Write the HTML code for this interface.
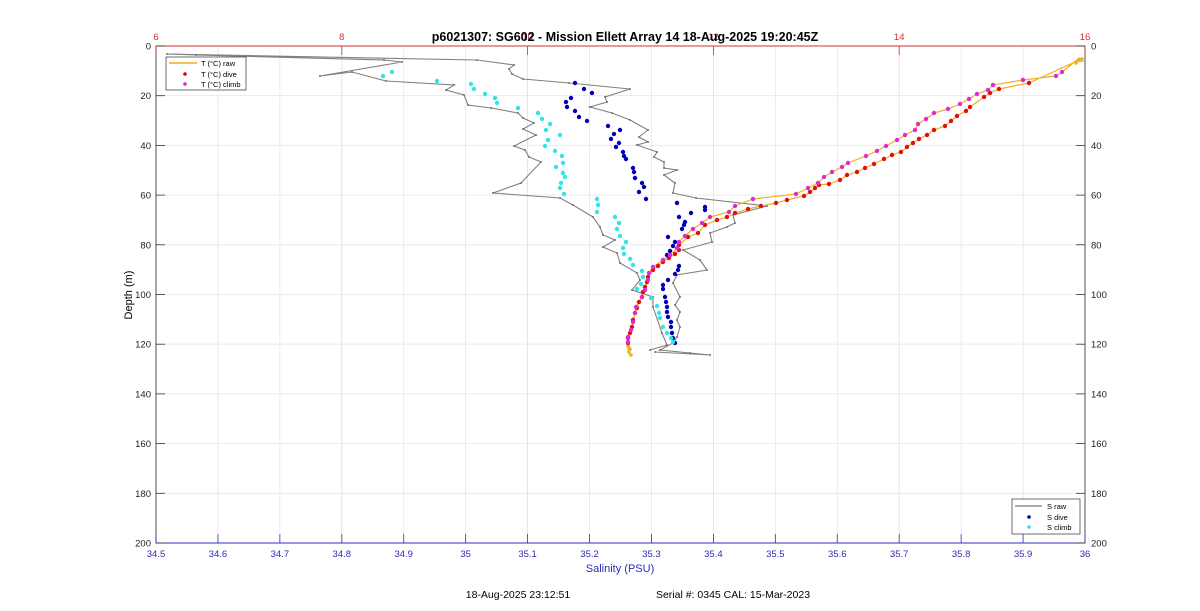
<!DOCTYPE html>
<html><head><meta charset="utf-8"><style>
html,body{margin:0;padding:0;background:#fff;}
svg{display:block;font-family:"Liberation Sans",Arial,sans-serif;}
</style></head><body>
<svg id="s" width="1200" height="611" viewBox="0 0 1200 611" xmlns="http://www.w3.org/2000/svg">
<rect width="1200" height="611" fill="#fff"/>
<g id="grid"></g>
<rect x="156" y="46" width="929" height="497" fill="none" stroke="#262626" stroke-width="0.8"/>
<line x1="156" y1="46" x2="1085" y2="46" stroke="#d03030" stroke-width="1"/>
<line x1="156" y1="543" x2="1085" y2="543" stroke="#3030c0" stroke-width="1"/>
<g id="ticks" font-size="9.5"></g>
<g id="data"></g>
<text x="625" y="41" font-size="12.5" font-weight="bold" text-anchor="middle" fill="#000">p6021307: SG602 - Mission Ellett Array 14 18-Aug-2025 19:20:45Z</text>
<text x="620" y="572" font-size="11" text-anchor="middle" fill="#2b2bb5">Salinity (PSU)</text>
<text transform="translate(132,295) rotate(-90)" font-size="11" text-anchor="middle" fill="#000">Depth (m)</text>
<text x="518" y="598" font-size="10.5" text-anchor="middle" fill="#000">18-Aug-2025 23:12:51</text>
<text x="733" y="598" font-size="10.5" text-anchor="middle" fill="#000">Serial #: 0345  CAL: 15-Mar-2023</text>
<g font-size="7.5" fill="#000">
<rect x="166" y="57" width="80" height="33" fill="#fff" stroke="#333" stroke-width="0.7"/>
<line x1="169" y1="63" x2="197" y2="63" stroke="#edb120" stroke-width="1.5"/>
<text x="201" y="66">T (°C) raw</text>
<circle cx="185" cy="74" r="1.8" fill="#e00000"/><text x="201" y="77">T (°C) dive</text>
<circle cx="185" cy="84" r="1.8" fill="#e020e0"/><text x="201" y="87">T (°C) climb</text>
<rect x="1012" y="499" width="68" height="35" fill="#fff" stroke="#333" stroke-width="0.7"/>
<line x1="1015" y1="506" x2="1042" y2="506" stroke="#777" stroke-width="1.2"/>
<text x="1047" y="509">S raw</text>
<circle cx="1029" cy="517" r="1.8" fill="#0000b0"/><text x="1047" y="520">S dive</text>
<circle cx="1029" cy="527" r="1.8" fill="#22e8e8"/><text x="1047" y="530">S climb</text>
</g>
</svg>
<script>
var NS="http://www.w3.org/2000/svg";
function el(p,t,a,txt){var e=document.createElementNS(NS,t);for(var k in a)e.setAttribute(k,a[k]);if(txt!==undefined)e.textContent=txt;document.getElementById(p).appendChild(e);return e;}
var X0=156,X1=1085,Y0=46,Y1=543;
// salinity grid & ticks
for(var i=0;i<=15;i++){var x=X0+(X1-X0)*i/15;
 if(i>0&&i<15)el("grid","line",{x1:x,y1:Y0,x2:x,y2:Y1,stroke:"#e6e6e6","stroke-width":0.8});
 el("ticks","line",{x1:x,y1:Y1,x2:x,y2:Y1-9,stroke:"#3030c0","stroke-width":0.8});
 var v=(34.5+i*0.1).toFixed(1);if(v=="35.0")v="35";if(v=="36.0")v="36";
 el("ticks","text",{x:x,y:557,"text-anchor":"middle",fill:"#2b2bb5"},v);}
// temp ticks
for(var i=0;i<=5;i++){var x=X0+(X1-X0)*i/5;
 if(i>0&&i<5)el("grid","line",{x1:x,y1:Y0,x2:x,y2:Y1,stroke:"#f0dede","stroke-width":0.8});
 el("ticks","line",{x1:x,y1:Y0,x2:x,y2:Y0+9,stroke:"#d03030","stroke-width":0.8});
 el("ticks","text",{x:x,y:40,"text-anchor":"middle",fill:"#d03030"},String(6+2*i));}
// depth
for(var i=0;i<=10;i++){var y=Y0+(Y1-Y0)*i/10;
 if(i>0&&i<10)el("grid","line",{x1:X0,y1:y,x2:X1,y2:y,stroke:"#e6e6e6","stroke-width":0.8});
 el("ticks","line",{x1:X0,y1:y,x2:X0+9,y2:y,stroke:"#333","stroke-width":0.8});
 el("ticks","line",{x1:X1,y1:y,x2:X1-9,y2:y,stroke:"#333","stroke-width":0.8});
 el("ticks","text",{x:151,y:y+3.5,"text-anchor":"end",fill:"#222"},String(i*20));
 el("ticks","text",{x:1091,y:y+3.5,fill:"#222"},String(i*20));}
function P(a){return a.map(function(p){return p[0]+","+p[1]}).join(" ");}
var gray=[[650,350],[667,345],[662,333],[653,307],[653,297],[632,290],[640,280],[637,273],[620,263],[617,253],[603,247],[615,240],[603,235],[600,227],[593,217],[573,205],[560,198],[493,193],[521,183],[541,162],[529,157],[525,150],[514,146],[536,135],[523,129],[534,123],[523,118],[518,113],[491,108],[468,105],[464,95],[446,90],[454,85],[386,81],[352,72],[320,76],[402,62],[384,60],[196,55],[167,54],[477,60],[514,65],[509,69],[512,74],[523,79],[569,83],[630,89],[605,97],[607,102],[590,107],[612,113],[630,120],[648,130],[639,137],[648,142],[637,145],[657,152],[654,157],[664,162],[664,168],[677,170],[664,175],[675,183],[673,193],[696,198],[767,206],[733,215],[735,223],[727,227],[710,233],[712,242],[683,250],[700,260],[707,270],[677,275],[673,283],[680,297],[675,305],[680,312],[677,320],[680,327],[677,337],[673,343],[660,350],[690,353],[710,355],[655,352]];
el("data","polyline",{points:P(gray),fill:"none",stroke:"#808080","stroke-width":1.1});
gray.forEach(function(p){el("data","circle",{cx:p[0],cy:p[1],r:1,fill:"#707070"});});
var red=[[1029,83],[999,89],[990,93],[984,97],[970,107],[966,111],[957,116],[951,121],[945,126],[934,130],[927,135],[919,139],[913,143],[907,147],[901,152],[892,155],[884,159],[874,164],[865,168],[857,172],[847,175],[840,180],[829,184],[819,185],[815,188],[810,192],[804,196],[787,200],[776,203],[761,206],[748,209],[735,213],[727,217],[717,220],[705,225],[698,233],[688,237],[679,245],[679,250],[675,254],[669,258],[663,262],[658,266],[653,270],[648,277],[647,282],[645,287],[643,292],[642,297],[639,302],[637,308],[635,313],[633,320],[632,327],[630,333],[628,338],[628,343]];
var mag=[[1062,72],[1056,76],[1023,80],[993,85],[988,90],[977,94],[969,99],[960,104],[948,109],[934,113],[926,119],[918,124],[915,130],[905,135],[897,140],[886,146],[877,151],[866,156],[848,163],[842,167],[832,172],[824,177],[818,183],[808,188],[796,194],[753,199],[735,206],[729,212],[710,217],[702,223],[693,229],[685,236],[679,242],[677,248],[670,255],[663,260],[653,267],[649,273],[648,280],[645,290],[642,297],[636,307],[635,313],[633,322],[631,330],[628,337],[628,342]];
var orange=[[630,356],[628,350]].concat(red.slice().reverse()).concat([[1075,62],[1083,61],[1079,58],[1072,64]]).concat(mag).concat([[630,348],[629,353]]);
el("data","polyline",{points:P(orange),fill:"none",stroke:"#edb120","stroke-width":1.2});
[[628,346],[630,349],[629,352],[631,355],[1079,60],[1076,63],[1082,59]].forEach(function(p){el("data","circle",{cx:p[0],cy:p[1],r:1.8,fill:"#edb120"});});
var blue=[[575,83],[584,89],[592,93],[571,98],[566,102],[567,107],[575,111],[579,117],[587,121],[608,126],[620,130],[614,134],[611,139],[619,143],[616,147],[623,152],[624,156],[626,159],[633,168],[634,172],[635,178],[642,183],[644,187],[639,192],[646,199],[677,203],[705,207],[705,210],[691,213],[679,217],[685,222],[684,225],[682,229],[668,237],[675,242],[673,246],[670,251],[667,255],[679,266],[678,270],[675,274],[668,280],[663,285],[663,289],[665,297],[666,302],[667,307],[667,312],[668,317],[671,322],[671,327],[672,333],[673,338],[675,343]];
var cyan=[[392,72],[383,76],[437,81],[471,84],[474,89],[485,94],[495,98],[497,103],[518,108],[538,113],[542,119],[550,124],[546,130],[560,135],[548,140],[545,146],[555,151],[562,156],[563,163],[556,167],[563,173],[565,177],[561,183],[560,188],[564,194],[597,199],[598,205],[597,212],[615,217],[619,223],[617,229],[620,236],[626,242],[623,248],[624,254],[630,259],[633,265],[642,271],[643,277],[641,284],[637,289],[651,298],[657,306],[659,313],[660,318],[663,327],[667,333],[671,338],[673,342]];
blue.forEach(function(p){el("data","circle",{cx:p[0],cy:p[1],r:2.2,fill:"#0000b8"});});
cyan.forEach(function(p){el("data","circle",{cx:p[0],cy:p[1],r:2.2,fill:"#2ee6e6"});});
red.forEach(function(p){el("data","circle",{cx:p[0],cy:p[1],r:2.2,fill:"#dd1010"});});
mag.forEach(function(p){el("data","circle",{cx:p[0],cy:p[1],r:2.2,fill:"#e028d8"});});
</script>
</body></html>
